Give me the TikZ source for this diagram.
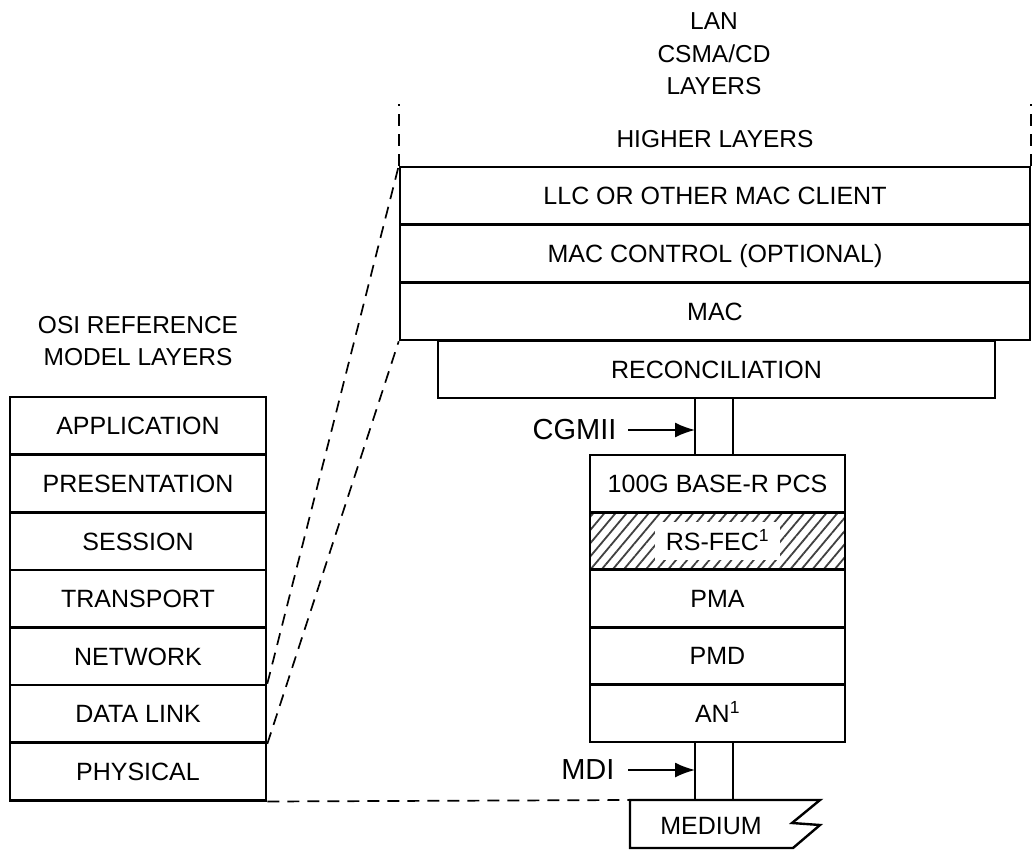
\documentclass[tikz,border=0pt]{standalone}
\usepackage{fontspec}
\setmainfont{Liberation Sans}
\usetikzlibrary{arrows.meta,patterns.meta}

\tikzset{
    layer/.style={draw, line width=2.6pt, inner sep=0pt, minimum height=57.6pt,
        text height=18pt, text depth=0pt, font=\fontsize{25}{32}\selectfont},
    osi/.style={layer, minimum width=256pt},
    lan/.style={layer, minimum width=630pt},
    phy/.style={layer, minimum width=255pt},
    title/.style={align=center, font=\fontsize{24.5}{32.5}\selectfont},
    iface/.style={anchor=east, font=\fontsize{29}{32}\selectfont},
    ddash/.style={line width=1.7pt, dash pattern=on 12pt off 8pt},
    ifarrow/.style={-{Latex[length=20pt 0, width=15pt 0]}, line width=1.8pt}
}

\begin{document}
\begin{tikzpicture}[x=1pt, y=-1pt]
    \useasboundingbox (0,0) rectangle (1032,850);

    % the titles
    \node[title] (osititle) at (138,341) {OSI REFERENCE\\MODEL LAYERS};
    \node[title] (lantitle) at (714,54) {LAN\\CSMA/CD\\LAYERS};
    \node[title] (higher) at (715,139) {HIGHER LAYERS};

    % the OSI stack
    \node[osi] (app) at (138,425.8) {APPLICATION};
    \node[osi] (pres) at (138,483.4) {PRESENTATION};
    \node[osi] (sess) at (138,541) {SESSION};
    \node[osi] (trans) at (138,598.6) {TRANSPORT};
    \node[osi] (net) at (138,656.2) {NETWORK};
    \node[osi] (dlink) at (138,713.8) {DATA LINK};
    \node[osi] (phys) at (138,771.4) {PHYSICAL};

    % the LAN stack
    \node[lan] (llc) at (715,196) {LLC OR OTHER MAC CLIENT};
    \node[lan] (macc) at (715,253.6) {MAC CONTROL (OPTIONAL)};
    \node[lan] (mac) at (715,311.2) {MAC};
    \node[layer, minimum width=557pt] (rec) at (716.5,369) {RECONCILIATION};

    % the PHY stack
    \node[phy] (pcs) at (717.5,483.7) {100G BASE-R PCS};
    \node[phy, pattern={Lines[angle=50, distance=8.5pt, line width=1.8pt]},
        pattern color=black!75] (fec) at (717.5,541.1) {};
    \node[fill=white, inner xsep=11pt, inner ysep=10pt, text height=18pt, text depth=0pt,
        font=\fontsize{25}{32}\selectfont] (fectext) at (fec) {RS-FEC\textsuperscript{1}};
    \node[phy] (pma) at (717.5,598.5) {PMA};
    \node[phy] (pmd) at (717.5,655.9) {PMD};
    \node[phy] (an) at (717.5,713.3) {AN\textsuperscript{1}};

    % the medium
    \coordinate (medtop) at (630,800);
    \draw[line width=2.4pt, line join=miter] (medtop) -- (820,800) -- (792,823)
        -- (820,825) -- (793,848) -- (630,848) -- cycle;
    \node[font=\fontsize{25}{32}\selectfont, text height=18pt, text depth=0pt] (medium)
        at (711,825) {MEDIUM};

    % the interfaces
    \coordinate (ifL) at (695,0);
    \coordinate (ifR) at (733,0);
    \draw[line width=2.2pt] (rec.south -| ifL) -- (pcs.north -| ifL);
    \draw[line width=2.2pt] (rec.south -| ifR) -- (pcs.north -| ifR);
    \draw[line width=2.2pt] (an.south -| ifL) -- (ifL |- medtop);
    \draw[line width=2.2pt] (an.south -| ifR) -- (ifR |- medtop);

    \node[iface] (cgmii) at (620,430) {CGMII};
    \node[iface] (mdi) at (618,770) {MDI};
    \draw[ifarrow] ([xshift=8pt]cgmii.east) -- (cgmii.east -| ifL);
    \draw[ifarrow] ([xshift=10pt]mdi.east) -- (mdi.east -| ifL);

    % draw the dashed lines
    \draw[ddash] (llc.north west) -- ++(0,-62);
    \draw[ddash] (llc.north east) -- ++(0,-62);
    \draw[ddash] (dlink.north east) -- (llc.north west);
    \draw[ddash] (dlink.south east) -- (mac.south west);
    \draw[ddash] (phys.south east) -- (medtop);
\end{tikzpicture}
\end{document}
